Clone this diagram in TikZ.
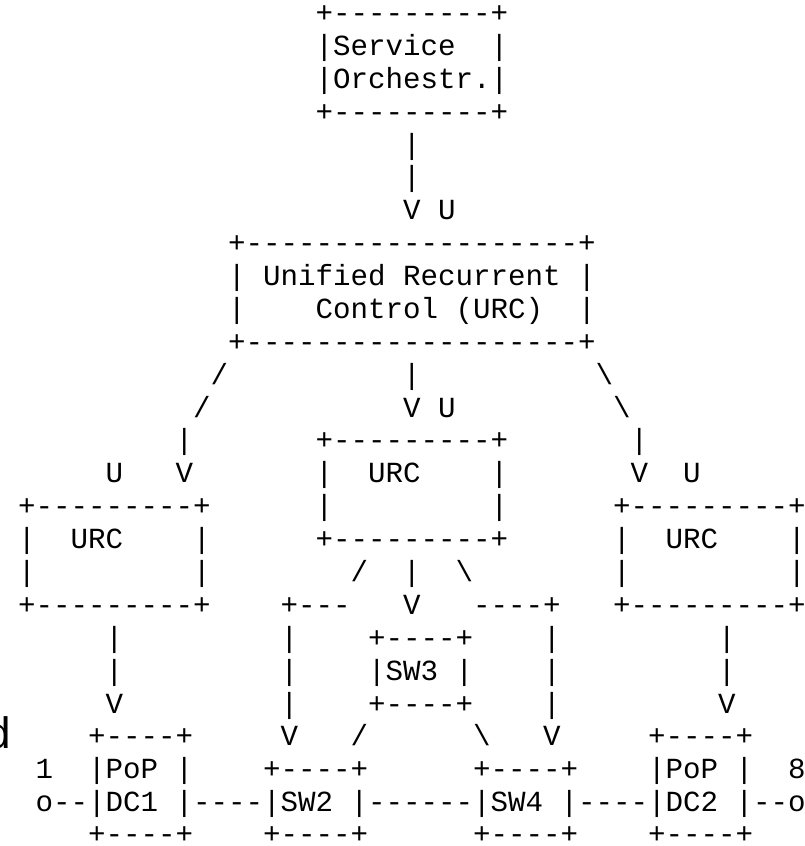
\documentclass[tikz,border=0pt]{standalone}
\usepackage{fontspec}
\setmonofont{Liberation Mono}
\newfontfamily\cutfont{Liberation Sans}
\usepackage{tikz}

\tikzset{
  ascii/.style={anchor=base west, inner sep=0pt, font=\ttfamily\fontsize{21.875}{24.66}\selectfont}
}

\begin{document}
\begin{tikzpicture}[x=0.75pt,y=0.75pt,yscale=-1,xscale=1]
\useasboundingbox (0,0) rectangle (804,846);

% Service orchestrator
\draw (315.25,22.5) node [ascii] (orchTop) {+---------+};
\draw (315.25,55.4) node [ascii] (orchA) {|Service~~|};
\draw (315.25,88.3) node [ascii] (orchB) {|Orchestr.|};
\draw (315.25,121.1) node [ascii] (orchBot) {+---------+};
\draw (402.75,154.0) node [ascii] (linkA) {|};
\draw (402.75,186.9) node [ascii] (linkB) {|};
\draw (402.75,219.8) node [ascii] (vuTop) {V~U};

% Unified Recurrent Control
\draw (227.75,252.7) node [ascii] (urcTop) {+-------------------+};
\draw (227.75,285.5) node [ascii] (urcA) {|~Unified~Recurrent~|};
\draw (227.75,318.4) node [ascii] (urcB) {|~~~~Control~(URC)~~|};
\draw (227.75,351.3) node [ascii] (urcBot) {+-------------------+};

% branches
\draw (210.25,384.2) node [ascii] (brA) {/~~~~~~~~~~|~~~~~~~~~~\textbackslash};
\draw (192.75,417.1) node [ascii] (brB) {/~~~~~~~~~~~V~U~~~~~~~~~\textbackslash};
\draw (175.25,449.9) node [ascii] (brC) {|~~~~~~~+---------+~~~~~~~|};
\draw (105.25,482.8) node [ascii] (brD) {U~~~V~~~~~~~|~~URC~~~~|~~~~~~~V~~U};

% child URC boxes
\draw (17.75,515.7) node [ascii] (kidA) {+---------+~~~~~~|~~~~~~~~~|~~~~~~+---------+};
\draw (17.75,548.6) node [ascii] (kidB) {|~~URC~~~~|~~~~~~+---------+~~~~~~|~~URC~~~~|};
\draw (17.75,581.5) node [ascii] (kidC) {|~~~~~~~~~|~~~~~~~~/~~|~~\textbackslash~~~~~~~~|~~~~~~~~~|};
\draw (17.75,614.3) node [ascii] (kidD) {+---------+~~~~+---~~~V~~~----+~~~+---------+};

% SW3 and down links
\draw (105.25,647.2) node [ascii] (swA) {|~~~~~~~~~|~~~~+----+~~~~|~~~~~~~~~|};
\draw (105.25,680.1) node [ascii] (swB) {|~~~~~~~~~|~~~~|SW3~|~~~~|~~~~~~~~~|};
\draw (105.25,713.0) node [ascii] (swC) {V~~~~~~~~~|~~~~+----+~~~~|~~~~~~~~~V};
\draw (87.75,745.9) node [ascii] (swD) {+----+~~~~~V~~~/~~~~~~\textbackslash~~~V~~~~~+----+};

% PoPs and switches
\draw (35.25,778.7) node [ascii] (popA) {1~~|PoP~|~~~~+----+~~~~~~+----+~~~~|PoP~|~~8};
\draw (35.25,811.6) node [ascii] (popB) {o--|DC1~|----|SW2~|------|SW4~|----|DC2~|--o};
\draw (87.75,843.5) node [ascii] (popBot) {+----+~~~~+----+~~~~~~+----+~~~~+----+};

% cut-off letter at the left edge
\draw (-13.5,748) node [anchor=base west, inner sep=0pt, font=\cutfont\fontsize{33}{36}\selectfont] (cut) {d};

\end{tikzpicture}
\end{document}
